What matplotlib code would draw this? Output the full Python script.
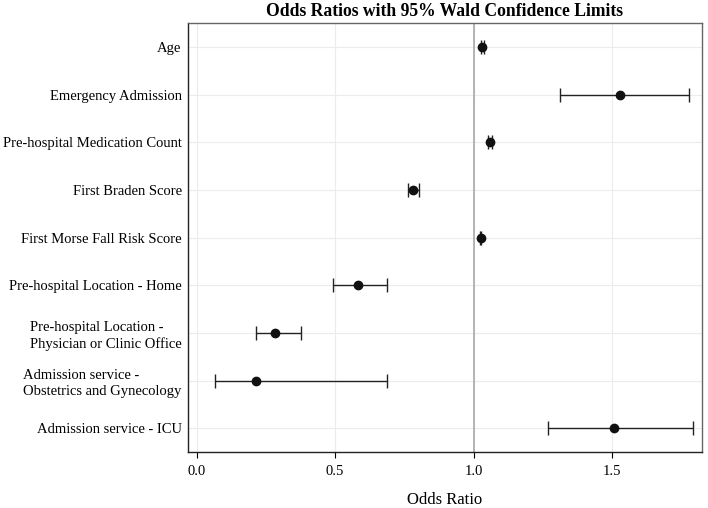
import matplotlib
matplotlib.use("Agg")
import matplotlib.pyplot as plt
import numpy as np

plt.rcParams['font.family'] = ['Liberation Serif', 'DejaVu Serif']

labels = ["Age", "Emergency Admission", "Pre-hospital Medication Count",
          "First Braden Score", "First Morse Fall Risk Score",
          "Pre-hospital Location - Home",
          "Pre-hospital Location -\nPhysician or Clinic Office",
          "Admission service -\nObstetrics and Gynecology",
          "Admission service - ICU"]
odds = [1.032, 1.528, 1.058, 0.782, 1.025, 0.584, 0.284, 0.213, 1.507]
lower = [1.026, 1.311, 1.051, 0.762, 1.023, 0.494, 0.214, 0.066, 1.267]
upper = [1.037, 1.777, 1.065, 0.803, 1.027, 0.686, 0.378, 0.686, 1.791]
xticks = [0.0, 0.5, 1.0, 1.5]

fig = plt.figure(figsize=(7.08, 5.08), dpi=100)
ax = fig.add_axes([0.2655, 0.110, 0.7255, 0.8447])

y = np.arange(len(labels))
odds_a = np.array(odds)
err = np.vstack([odds_a - np.array(lower), np.array(upper) - odds_a])

ax.axvline(1.0, color='#a8a8a8', lw=1.2, zorder=1)
ax.errorbar(odds, y, xerr=err, fmt='o', color='#111111', ecolor='#222222',
            elinewidth=1.0, capsize=5, capthick=1.0, markersize=6, zorder=3)

ax.set_ylim(len(labels) - 0.5, -0.5)
ax.set_xlim(-0.031, 1.823)
ax.set_yticks(y)
ax.set_yticklabels(labels, fontsize=10.5, linespacing=1.3)
for t in ax.get_yticklabels():
    t.set_multialignment('left')
ax.set_xticks(xticks)
ax.set_xticklabels([f"{t:.1f}" for t in xticks], fontsize=10.5)
ax.tick_params(axis='y', length=0, pad=4.5)
ax.tick_params(axis='x', length=4, pad=5)
ax.grid(True, color='#ececec', lw=0.8, zorder=0)
ax.set_axisbelow(True)
for s in ax.spines.values():
    s.set_color('#666666')
    s.set_linewidth(1.0)
ax.spines['left'].set_color('#222222')
ax.spines['bottom'].set_color('#222222')

ax.set_xlabel("Odds Ratio", fontsize=12, labelpad=10)
ax.set_title("Odds Ratios with 95% Wald Confidence Limits", fontsize=12.7,
             fontweight='bold', pad=5)

fig.savefig("out.png", dpi=100)
